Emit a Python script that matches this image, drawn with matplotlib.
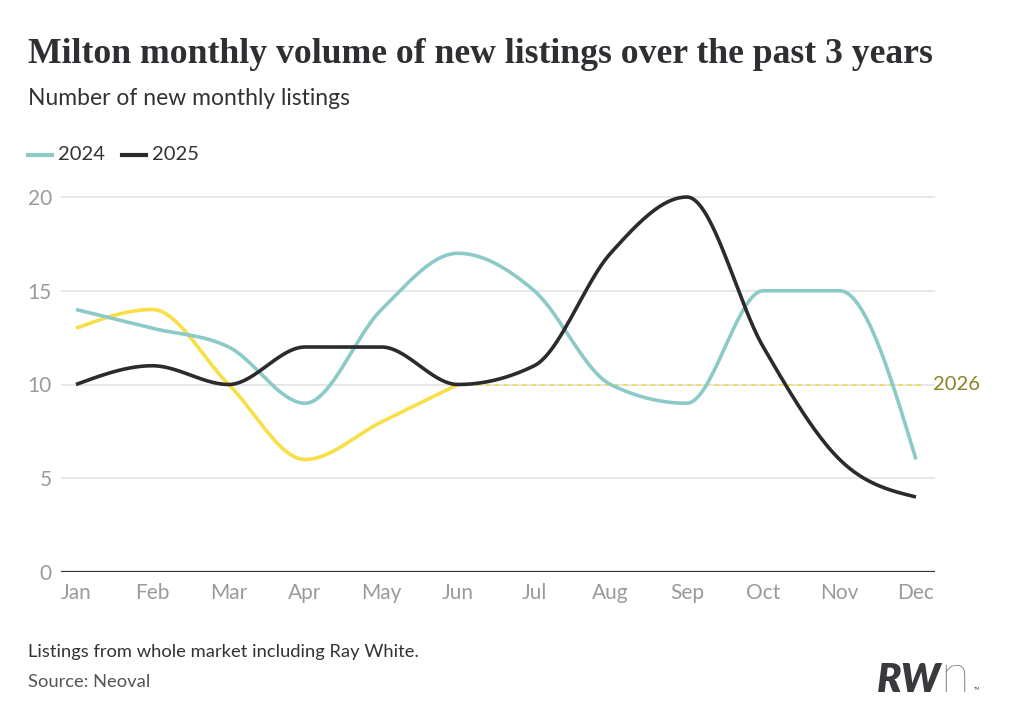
import numpy as np
import matplotlib
matplotlib.use("Agg")
import matplotlib.pyplot as plt

months = ["Jan", "Feb", "Mar", "Apr", "May", "Jun", "Jul", "Aug", "Sep", "Oct", "Nov", "Dec"]
listings_2024 = [14, 13, 12, 9, 14, 17, 15, 10, 9, 15, 15, 6]
listings_2025 = [10, 11, 10, 12, 12, 10, 11, 17, 20, 12, 6, 4]
listings_2026 = [13, 14, 10, 6, 8, 10]
yticks = [0, 5, 10, 15, 20]

C_2024 = "#8ccac8"
C_2025 = "#2b2b2d"
C_2026 = "#f7df45"
C_TEXT = "#333333"
C_GREY = "#9a9a9a"


def monotone_x(y, n=40):
    # d3 curveMonotoneX style smoothing, used only to draw the line
    y = np.asarray(y, dtype=float)
    x = np.arange(len(y), dtype=float)
    s = np.diff(y)
    t = np.zeros(len(y))
    for i in range(1, len(y) - 1):
        s0, s1 = s[i - 1], s[i]
        p = (s0 + s1) / 2
        t[i] = (np.sign(s0) + np.sign(s1)) * min(abs(s0), abs(s1), 0.5 * abs(p))
    t[0] = (3 * s[0] - t[1]) / 2
    t[-1] = (3 * s[-1] - t[-2]) / 2
    xs, ys = [], []
    for i in range(len(y) - 1):
        u = np.linspace(0, 1, n, endpoint=False)
        h00 = 2 * u**3 - 3 * u**2 + 1
        h10 = u**3 - 2 * u**2 + u
        h01 = -2 * u**3 + 3 * u**2
        h11 = u**3 - u**2
        xs.append(x[i] + u)
        ys.append(h00 * y[i] + h10 * t[i] + h01 * y[i + 1] + h11 * t[i + 1])
    xs.append([x[-1]])
    ys.append([y[-1]])
    return np.concatenate(xs), np.concatenate(ys)


plt.rcParams["font.family"] = ["Lato", "DejaVu Sans"]
W, H = 1018, 718
fig = plt.figure(figsize=(W / 100, H / 100), dpi=100)

x_left, x_right = 61, 935
y_bot = 572
px_per_unit = (572 - 197) / 20
y_top_val = 20.5
ax_h = y_top_val * px_per_unit
ax = fig.add_axes([x_left / W, (H - y_bot) / H, (x_right - x_left) / W, ax_h / H])

step = (916 - 76) / 11
ax.set_xlim(-(76 - x_left) / step, 11 + (x_right - 916) / step)
ax.set_ylim(0, y_top_val)

for v in yticks[1:]:
    ax.axhline(v, color="#e3e3e3", lw=1.2, zorder=0)
ax.axhline(0, color="#333333", lw=1.6, zorder=1)

x = np.arange(len(months))
ax.plot([5, 11.1], [10, 10], color="#f2dc3a", lw=1.1, ls=(0, (3, 3)), zorder=2)

sx, sy = monotone_x(listings_2026)
ax.plot(sx, sy, color=C_2026, lw=2.6, solid_capstyle="butt", zorder=3)
sx, sy = monotone_x(listings_2024)
ax.plot(sx, sy, color=C_2024, lw=2.6, solid_capstyle="butt", zorder=4)
sx, sy = monotone_x(listings_2025)
ax.plot(sx, sy, color=C_2025, lw=2.6, solid_capstyle="butt", zorder=5)

ax.text(11.22, 10, "2026", color="#8c8224", fontsize=14.5, va="center", ha="left")

for sp in ax.spines.values():
    sp.set_visible(False)
ax.set_xticks(x)
ax.set_xticklabels(months)
ax.set_yticks(yticks)
ax.tick_params(axis="both", length=0, labelsize=15, labelcolor=C_GREY)
ax.tick_params(axis="x", pad=8)
ax.tick_params(axis="y", pad=6.5)

fig.text(28 / W, 1 - 63 / H, "Milton monthly volume of new listings over the past 3 years",
         family=["Liberation Serif", "DejaVu Serif"], weight="bold", fontsize=25.65,
         color="#2f2f33", va="baseline", ha="left")
fig.text(28 / W, 1 - 105 / H, "Number of new monthly listings", fontsize=16.5,
         color=C_TEXT, va="baseline", ha="left")

# legend
ly = 1 - 155 / H
fig.add_artist(plt.Line2D([28 / W, 52 / W], [ly, ly], color=C_2024, lw=3, transform=fig.transFigure))
fig.text(58 / W, ly, "2024", fontsize=14.5, color=C_TEXT, va="center", ha="left")
fig.add_artist(plt.Line2D([122 / W, 146 / W], [ly, ly], color=C_2025, lw=3, transform=fig.transFigure))
fig.text(152 / W, ly, "2025", fontsize=14.5, color=C_TEXT, va="center", ha="left")

fig.text(28 / W, 1 - 657 / H, "Listings from whole market including Ray White.", fontsize=13.2,
         color=C_TEXT, va="baseline", ha="left")
fig.text(28 / W, 1 - 687 / H, "Source: Neoval", fontsize=13.2, color="#555555",
         va="baseline", ha="left")

# logo
fig.text(877 / W, 1 - 692 / H, "RW", fontsize=29, weight="heavy", style="italic",
         color="#3a3a3e", va="baseline", ha="left")
fig.text(940 / W, 1 - 692 / H, "n", fontsize=38, weight="light", color="#3a3a3e",
         va="baseline", ha="left")
fig.text(974 / W, 1 - 690 / H, "TM", fontsize=3, color="#3a3a3e", va="baseline", ha="left")

fig.savefig("out.png", dpi=100, facecolor="white")
